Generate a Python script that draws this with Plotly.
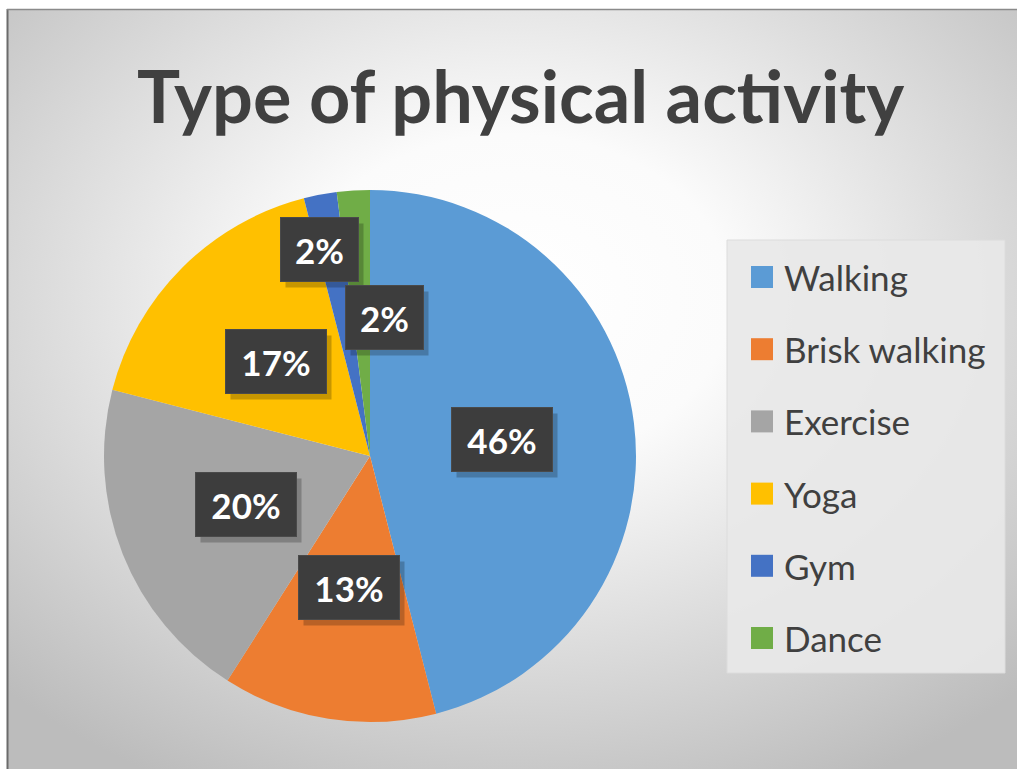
import math, base64
import plotly.graph_objects as go

# ---- data ----
categories = ["Walking", "Brisk walking", "Exercise", "Yoga", "Gym", "Dance"]
values = [46, 13, 20, 17, 2, 2]
colors = ["#5B9BD5", "#ED7D31", "#A5A5A5", "#FFC000", "#4472C4", "#70AD47"]
title_text = "Type of physical activity"

# ---- layout geometry (pixels) ----
W, H = 1017, 769
cx, cy, R = 370, 456, 266
label_frac = [0.5, 0.5, 0.5, 0.5, 0.79, 0.52]
label_nudge = [0, 0, 0, 0, -11, 23]
label_w = [100, 100, 100, 100, 77, 77]


def px(x):
    return x / W


def py(y):
    return 1 - y / H


svg = (
    "<svg xmlns='http://www.w3.org/2000/svg' width='1009' height='759' preserveAspectRatio='none'>"
    "<defs><radialGradient id='g' cx='50%' cy='38%' r='72%'>"
    "<stop offset='0' stop-color='#ffffff'/>"
    "<stop offset='0.3' stop-color='#fbfbfb'/>"
    "<stop offset='1' stop-color='#bcbcbc'/>"
    "</radialGradient></defs>"
    "<rect width='100%' height='100%' fill='url(#g)'/></svg>"
)
bg_src = "data:image/svg+xml;base64," + base64.b64encode(svg.encode()).decode()

fig = go.Figure()
fig.add_trace(go.Pie(
    labels=categories,
    values=values,
    marker=dict(colors=colors, line=dict(width=0)),
    sort=False,
    direction="clockwise",
    textinfo="none",
    hoverinfo="label+percent",
    showlegend=False,
    domain=dict(x=[px(cx - R), px(cx + R)], y=[py(cy + R), py(cy - R)]),
))

annotations = []
shapes = []

# title
annotations.append(dict(
    x=px(520), y=py(95), xref="paper", yref="paper",
    text="<b>" + title_text + "</b>", showarrow=False,
    font=dict(family="Lato", size=72, color="#404040"),
    xanchor="center", yanchor="middle",
))

# data labels
total = sum(values)
cum = 0
label_pos = []
for i, v in enumerate(values):
    mid = (cum + v / 2) / total * 2 * math.pi
    cum += v
    lx = cx + label_frac[i] * R * math.sin(mid) + label_nudge[i]
    ly = cy - label_frac[i] * R * math.cos(mid)
    label_pos.append((lx, ly))

for i, v in enumerate(values):
    lx, ly = label_pos[i]
    annotations.append(dict(
        x=px(lx + 5), y=py(ly + 6), xref="paper", yref="paper",
        text=" ", showarrow=False, width=label_w[i], height=63,
        bgcolor="rgba(0,0,0,0.22)", borderpad=0,
        xanchor="center", yanchor="middle",
    ))
for i, v in enumerate(values):
    lx, ly = label_pos[i]
    pct = round(v / total * 100)
    annotations.append(dict(
        x=px(lx), y=py(ly), xref="paper", yref="paper",
        text="<b>%d%%</b>" % pct, showarrow=False,
        width=label_w[i], height=63,
        bgcolor="#3d3d3d", bordercolor="#4a4a4a", borderwidth=1, borderpad=0,
        font=dict(family="Lato", size=35, color="#ffffff"),
        xanchor="center", yanchor="middle",
    ))

# legend
shapes.append(dict(
    type="rect", xref="paper", yref="paper",
    x0=px(727), x1=px(1005), y0=py(673), y1=py(240),
    fillcolor="rgba(232,232,232,0.92)", line=dict(color="#dcdcdc", width=1),
    layer="below",
))
leg_y0, leg_step = 277, 72.2
for i, name in enumerate(categories):
    yy = leg_y0 + i * leg_step
    shapes.append(dict(
        type="rect", xref="paper", yref="paper",
        x0=px(751), x1=px(773), y0=py(yy + 11), y1=py(yy - 11),
        fillcolor=colors[i], line=dict(width=0),
    ))
    annotations.append(dict(
        x=px(782), y=py(yy), xref="paper", yref="paper",
        text=name, showarrow=False,
        font=dict(family="Lato", size=35, color="#404040"),
        xanchor="left", yanchor="middle",
    ))

# frame lines
shapes.append(dict(type="line", xref="paper", yref="paper",
                   x0=px(7.5), x1=px(7.5), y0=0, y1=py(9), line=dict(color="#6b6b6b", width=2)))
shapes.append(dict(type="line", xref="paper", yref="paper",
                   x0=px(7), x1=1, y0=py(9.5), y1=py(9.5), line=dict(color="#8a8a8a", width=1.5)))

fig.update_layout(
    width=W, height=H,
    margin=dict(l=0, r=0, t=0, b=0),
    paper_bgcolor="#ffffff",
    plot_bgcolor="rgba(0,0,0,0)",
    annotations=annotations,
    shapes=shapes,
    images=[dict(
        source=bg_src, xref="paper", yref="paper",
        x=px(8), y=py(10), sizex=(W - 8) / W, sizey=(H - 10) / H,
        xanchor="left", yanchor="top", sizing="stretch", layer="below",
    )],
    showlegend=False,
)

fig.write_html("out.html")
